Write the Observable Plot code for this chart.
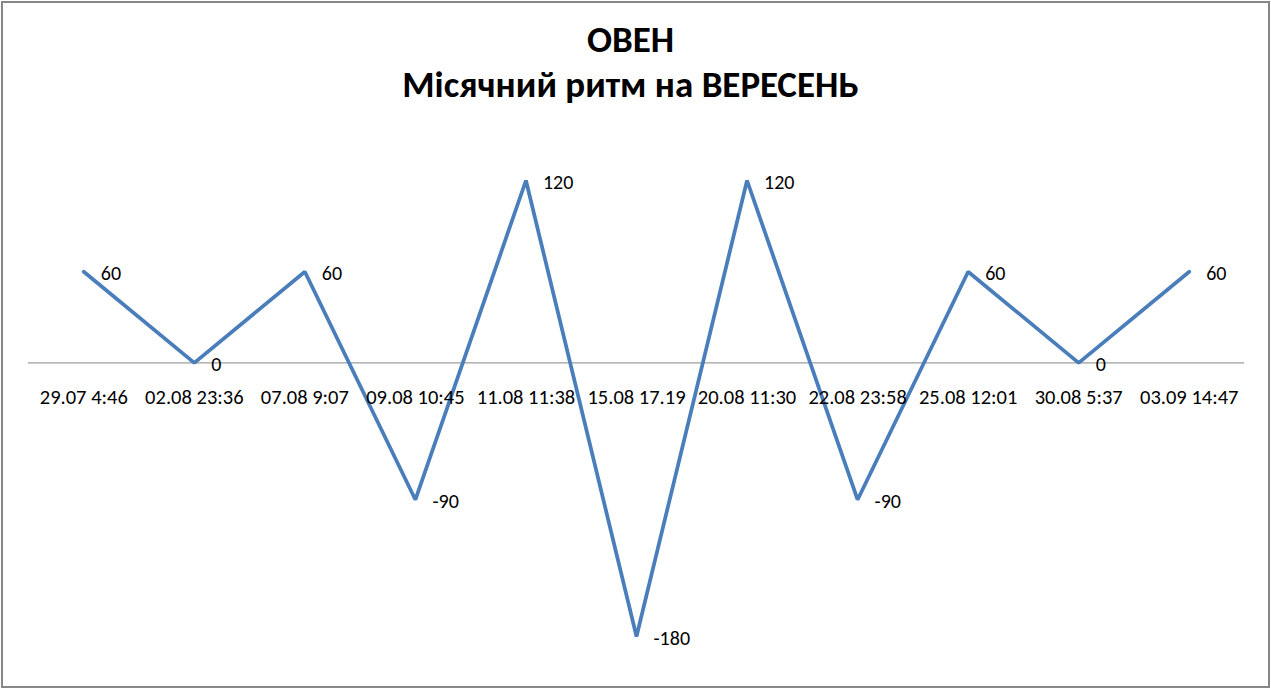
<!DOCTYPE html>
<html>
<head>
<meta charset="utf-8">
<script src="https://cdn.jsdelivr.net/npm/d3@7"></script>
<script src="https://cdn.jsdelivr.net/npm/@observablehq/plot@0.6"></script>
<style>
  html, body { margin: 0; padding: 0; background: #fff; }
  #wrap { position: relative; width: 1271px; height: 688px; overflow: hidden; background: #fff; }
  #frame { position: absolute; left: 1px; top: 1px; width: 1265px; height: 683px; border: 2px solid #878787; pointer-events: none; }
  #title { position: absolute; left: -5px; top: 0; width: 1271px; height: 110px; text-align: center;
           font-family: Carlito, Calibri, "Open Sans", sans-serif; font-weight: bold; color: #000; }
  #title .l1 { position: absolute; left: 0; width: 100%; top: 21px; font-size: 37px; line-height: 37px; white-space: nowrap; }
  #title .l2 { position: absolute; left: 0; width: 100%; top: 66px; font-size: 37px; line-height: 37px; white-space: nowrap; }
  #chart { position: absolute; left: 0; top: 110px; }
</style>
</head>
<body>
<div id="wrap">
  <div id="title"><div class="l1">ОВЕН</div><div class="l2">Місячний ритм на ВЕРЕСЕНЬ</div></div>
  <div id="chart"></div>
  <div id="frame"></div>
</div>
<script>
const labels = ["29.07 4:46","02.08 23:36","07.08 9:07","09.08 10:45","11.08 11:38","15.08 17.19","20.08 11:30","22.08 23:58","25.08 12:01","30.08 5:37","03.09 14:47"];
const values = [60, 0, 60, -90, 120, -180, 120, -90, 60, 0, 60];

const data = labels.map((d, i) => ({label: d, value: values[i]}));
const font = 'Carlito, Calibri, "Open Sans", sans-serif';

const chart = Plot.plot({
  width: 1271,
  height: 578,
  marginLeft: 28,
  marginRight: 27,
  marginTop: 70,
  marginBottom: 52,
  style: {fontFamily: font, background: "transparent", overflow: "visible"},
  x: {type: "point", domain: labels, padding: 0.5, round: false, axis: null},
  y: {domain: [-180, 120], axis: null},
  marks: [
    Plot.ruleY([0], {stroke: "#868686", strokeWidth: 1}),
    Plot.line(data, {x: "label", y: "value", stroke: "#4a7ebb", strokeWidth: 3.75, strokeLinejoin: "miter"}),
    Plot.text(data, {x: "label", y: "value", text: d => String(d.value), dx: 17, dy: 2, textAnchor: "start", fontSize: 20, fill: "#000"}),
    Plot.text(data, {x: "label", y: () => 0, text: "label", dy: 35, fontSize: 20.5, fill: "#000"})
  ]
});
document.getElementById("chart").appendChild(chart);
</script>
</body>
</html>
